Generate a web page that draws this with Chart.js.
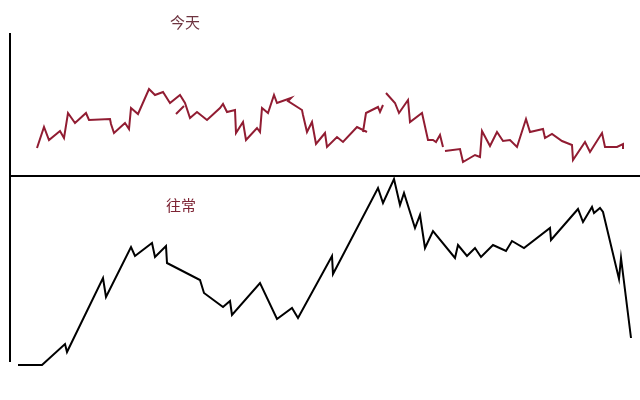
<!DOCTYPE html>
<html lang="zh">
<head>
    <meta charset="UTF-8">
    <title>今天 / 往常</title>
    <script src="https://cdn.jsdelivr.net/npm/chart.js"></script>
    <style>
        body {
            margin: 0;
            background: #fff;
        }
        canvas {
            display: block;
        }
    </style>
</head>
<body>
    <canvas id="chartCanvas" width="640" height="400"></canvas>

    <script>
        // 今天 (red line) - x position along the session, level; null = break in the line
        const todayX = [37, 44, 49, 60, 64, 68, 75, 86, 89, 110, 111, 114, 125, 129, 131, 138, 149, 155, 163, 170, 180, 185, 190, 197, 207, 220, 223, 227, 235, 236, 243, 246, 257, 260, 262, 268, 274, 277, 291, 288, 302, 303, 307, 312, 316, 325, 327, 337, 343, 357, 367,
                        367, 363, 366, 378, 380, 383,
                        383, 386, 395, 399, 408, 410, 422, 428, 433, 436, 440, 443,
                        443, 445, 460, 463, 475, 480, 482, 490, 497, 503, 510, 517, 526, 530, 543, 545, 552, 562, 572, 573, 585, 590, 602, 605, 617, 623, 623,
                        623, 176, 184];
        const todayY = [252, 273, 260, 269, 262, 287, 277, 287, 280, 281, 276, 267, 277, 271, 292, 286, 311, 305, 308, 297, 305, 297, 282, 288, 280, 292, 296, 288, 290, 267, 278, 260, 272, 268, 292, 287, 305, 297, 302, 299, 290, 285, 268, 278, 256, 267, 253, 263, 258, 273, 268,
                        null, 268, 287, 293, 288, 295,
                        null, 307, 297, 287, 300, 278, 287, 260, 260, 258, 265, 253,
                        null, 249, 251, 238, 245, 243, 269, 254, 268, 259, 260, 253, 281, 268, 271, 262, 266, 259, 255, 240, 258, 248, 267, 253, 253, 256, 251,
                        null, 286, 294];

        // 往常 (black line)
        const usualX = [18, 42, 65, 67, 103, 106, 131, 135, 152, 155, 166, 167, 200, 204, 223, 230, 232, 260, 277, 292, 298, 332, 333, 378, 383, 394, 400, 404, 415, 420, 425, 433, 455, 458, 467, 475, 481, 493, 506, 512, 524, 550, 551, 578, 583, 592, 594, 600, 603, 619, 621, 631];
        const usualY = [35, 35, 56, 48, 122, 103, 153, 144, 157, 143, 154, 137, 120, 107, 93, 99, 85, 117, 81, 92, 82, 144, 126, 212, 197, 221, 195, 207, 172, 185, 152, 169, 142, 155, 144, 152, 143, 155, 149, 159, 152, 172, 160, 191, 178, 193, 187, 192, 188, 121, 142, 62];

        // frame: left axis and the divider between the two days
        const dividerLevel = 224;
        const axisX = 10;
        const axisTop = 367;
        const axisBottom = 38;

        const labels = [
            { text: '今天', x: 185, y: 378, color: '#6e3440' },
            { text: '往常', x: 181, y: 195, color: '#7e2535' }
        ];

        const toPoints = (xs, ys) => xs.map((x, i) => ({ x: x, y: ys[i] }));

        const framePlugin = {
            id: 'frame',
            afterDatasetsDraw(chart) {
                const c = chart.ctx;
                const sx = chart.scales.x, sy = chart.scales.y;
                c.save();
                c.strokeStyle = '#000';
                c.lineWidth = 2;
                c.beginPath();
                c.moveTo(sx.getPixelForValue(axisX), sy.getPixelForValue(axisTop));
                c.lineTo(sx.getPixelForValue(axisX), sy.getPixelForValue(axisBottom));
                c.moveTo(sx.getPixelForValue(axisX - 1), sy.getPixelForValue(dividerLevel));
                c.lineTo(sx.getPixelForValue(sx.max), sy.getPixelForValue(dividerLevel));
                c.stroke();

                c.font = '15px "Noto Sans CJK SC"';
                c.textAlign = 'center';
                c.textBaseline = 'middle';
                labels.forEach(l => {
                    c.fillStyle = l.color;
                    c.fillText(l.text, sx.getPixelForValue(l.x), sy.getPixelForValue(l.y));
                });
                c.restore();
            }
        };

        const ctx = document.getElementById('chartCanvas').getContext('2d');
        const chart = new Chart(ctx, {
            type: 'scatter',
            data: {
                datasets: [{
                    label: '今天',
                    data: toPoints(todayX, todayY),
                    borderColor: 'rgb(145, 28, 50)',
                    borderWidth: 2,
                    showLine: true,
                    spanGaps: false,
                    pointRadius: 0
                }, {
                    label: '往常',
                    data: toPoints(usualX, usualY),
                    borderColor: '#000',
                    borderWidth: 2,
                    showLine: true,
                    pointRadius: 0
                }]
            },
            options: {
                responsive: false,
                animation: false,
                layout: { padding: 0 },
                scales: {
                    x: { type: 'linear', min: 0, max: 640, display: false },
                    y: { type: 'linear', min: 0, max: 400, display: false }
                },
                plugins: {
                    legend: { display: false },
                    tooltip: { enabled: false }
                }
            },
            plugins: [framePlugin]
        });
    </script>
</body>
</html>
